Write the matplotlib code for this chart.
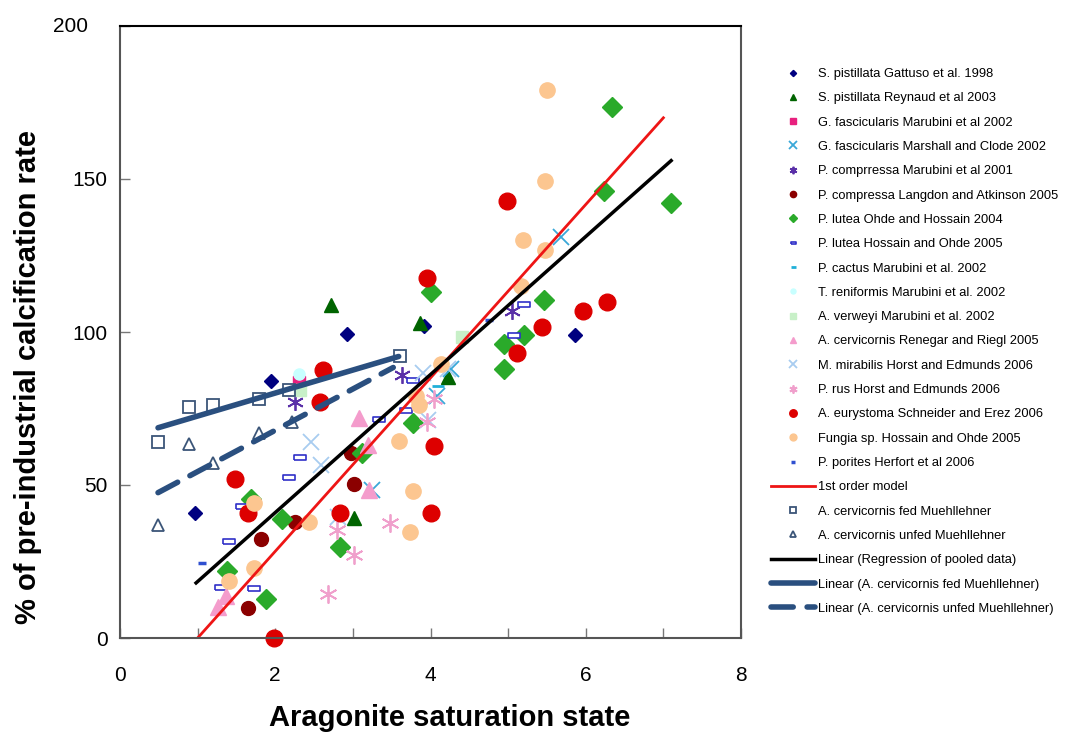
import matplotlib
matplotlib.use("Agg")
import matplotlib.pyplot as plt
from matplotlib.ticker import MultipleLocator

plt.rcParams["font.family"] = ["Liberation Sans", "DejaVu Sans"]

# ---- data ---------------------------------------------------------------
gattuso_x = [1.94, 2.93, 0.97, 3.91, 5.86]
gattuso_y = [84, 99.5, 41, 102, 99]

reynaud_x = [2.72, 3.87, 3.02, 4.23]
reynaud_y = [108.7, 103, 39.3, 85.4]

marubini_gf_x = [2.30]
marubini_gf_y = [83.5]

marshall_x = [5.68, 3.25, 4.09, 4.26]
marshall_y = [131, 48.4, 79, 88]

marubini_pc_x = [2.25, 3.63, 5.05]
marubini_pc_y = [77, 86, 107]

langdon_x = [1.82, 1.65, 2.26, 3.01, 2.97]
langdon_y = [32.4, 9.8, 38, 50.4, 60.5]

ohde_x = [6.34, 6.23, 7.10, 4.01, 5.46, 5.21, 4.95, 4.95, 3.78, 3.12, 2.09, 1.69, 1.38, 1.88, 2.83]
ohde_y = [173.5, 146, 142, 113, 110.6, 99, 96, 88, 70.4, 60.5, 39, 45.5, 22, 12.8, 29.8]

hossain_pl_x = [2.18, 1.41, 1.73, 1.30, 1.57, 2.32, 3.34, 3.69, 3.78, 5.21, 5.08]
hossain_pl_y = [52.7, 31.8, 16.4, 16.7, 43, 59, 71.7, 74.6, 84.4, 109, 99]

cactus_x = [4.10]
cactus_y = [82.5]

reniformis_x = [2.30]
reniformis_y = [86.4]

verweyi_x = [2.32, 4.40]
verweyi_y = [81, 98.5]

renegar_x = [3.08, 3.19, 3.21, 1.37, 1.26]
renegar_y = [72, 63, 48.4, 13.7, 10]

mirabilis_x = [2.46, 2.59, 3.90, 3.97, 4.23, 2.81]
mirabilis_y = [64, 56.6, 86.7, 71.4, 88, 39.6]

rus_x = [3.48, 3.02, 2.80, 2.68, 4.05, 3.96]
rus_y = [37.6, 27.2, 35.4, 14.4, 78, 70.7]

eurystoma_x = [4.98, 3.96, 6.28, 5.96, 5.43, 5.11, 4.04, 4.00, 2.83, 2.62, 2.58, 1.48, 1.65, 1.98]
eurystoma_y = [142.7, 117.8, 109.7, 106.7, 101.5, 93.2, 62.9, 40.9, 40.9, 87.7, 77, 52, 41, 0]

fungia_x = [5.50, 5.47, 5.19, 5.47, 5.16, 4.13, 3.81, 3.85, 3.59, 3.78, 3.73, 2.44, 1.73, 1.41, 1.72]
fungia_y = [179, 149.3, 130, 126.7, 115, 89.4, 79, 76, 64.5, 48, 34.6, 38, 23, 18.7, 44]

porites_x = [1.05, 4.76]
porites_y = [24.5, 104]

fed_x = [0.49, 0.89, 1.20, 1.79, 2.18, 3.61]
fed_y = [64, 75.6, 76, 78, 81, 92]

unfed_x = [0.49, 0.89, 1.20, 1.79, 2.22]
unfed_y = [37, 63.5, 57.3, 67, 70.7]

model_x = [1.0, 7.0]
model_y = [0, 170]

pooled_x = [0.98, 7.10]
pooled_y = [18, 156]

fed_fit_x = [0.49, 3.59]
fed_fit_y = [68.7, 92]

unfed_fit_x = [0.49, 3.52]
unfed_fit_y = [47.5, 88.4]

y_ticks = [0, 50, 100, 150, 200]

# small open rectangle marker used for the Hossain/Ohde series
RECT = [(-1, -0.45), (1, -0.45), (1, 0.45), (-1, 0.45), (-1, -0.45)]
STAR = (6, 2, 0)

scatter_series = [
    ("S. pistillata Gattuso et al. 1998", gattuso_x, gattuso_y,
     dict(marker="D", ms=7, mfc="#000080", mec="#000080")),
    ("S. pistillata Reynaud et al 2003", reynaud_x, reynaud_y,
     dict(marker="^", ms=10, mfc="#006400", mec="#006400")),
    ("G. fascicularis Marubini et al 2002", marubini_gf_x, marubini_gf_y,
     dict(marker="s", ms=9, mfc="#e8207e", mec="#e8207e")),
    ("G. fascicularis Marshall and Clode 2002", marshall_x, marshall_y,
     dict(marker="x", ms=12, mec="#3aa8d8", mew=1.3)),
    ("P. comprressa Marubini et al 2001", marubini_pc_x, marubini_pc_y,
     dict(marker=STAR, ms=12, mec="#5a30a8", mew=1.3)),
    ("P. compressa Langdon and Atkinson 2005", langdon_x, langdon_y,
     dict(marker="o", ms=10, mfc="#8b0000", mec="#8b0000")),
    ("P. lutea Ohde and Hossain 2004", ohde_x, ohde_y,
     dict(marker="D", ms=10, mfc="#2aaa2a", mec="#2aaa2a")),
    ("P. lutea Hossain and Ohde 2005", hossain_pl_x, hossain_pl_y,
     dict(marker=RECT, ms=8, mfc="white", mec="#3030c8", mew=1.2)),
    ("P. cactus Marubini et al. 2002", cactus_x, cactus_y,
     dict(marker="_", ms=8, mec="#20b0d8", mew=2)),
    ("T. reniformis Marubini et al. 2002", reniformis_x, reniformis_y,
     dict(marker="o", ms=8, mfc="#c8ffff", mec="#c8ffff")),
    ("A. verweyi Marubini et al. 2002", verweyi_x, verweyi_y,
     dict(marker="s", ms=9, mfc="#c8f0c8", mec="#c8f0c8")),
    ("A. cervicornis Renegar and Riegl 2005", renegar_x, renegar_y,
     dict(marker="^", ms=11, mfc="#f49ccc", mec="#f49ccc")),
    ("M. mirabilis Horst and Edmunds 2006", mirabilis_x, mirabilis_y,
     dict(marker="x", ms=12, mec="#a8ccf0", mew=1.3)),
    ("P. rus Horst and Edmunds 2006", rus_x, rus_y,
     dict(marker=STAR, ms=13, mec="#f0a0cc", mew=1.3)),
    ("A. eurystoma Schneider and Erez 2006", eurystoma_x, eurystoma_y,
     dict(marker="o", ms=12, mfc="#dd0000", mec="#dd0000")),
    ("Fungia sp. Hossain and Ohde 2005", fungia_x, fungia_y,
     dict(marker="o", ms=11, mfc="#fcc690", mec="#fcc690")),
    ("P. porites Herfort et al 2006", porites_x, porites_y,
     dict(marker="_", ms=6, mec="#3050d0", mew=2.5)),
]

fig = plt.figure(figsize=(10.68, 7.33), dpi=100)
ax = fig.add_axes([120 / 1068, 1 - 638 / 733, 621 / 1068, 612 / 733])

handles = []
for label, xs, ys, style in scatter_series:
    (h,) = ax.plot(xs, ys, linestyle="none", label=label, clip_on=False, **style)
    handles.append(h)

(h_model,) = ax.plot(model_x, model_y, color="#ee1515", lw=2, label="1st order model")
(h_fed,) = ax.plot(fed_x, fed_y, linestyle="none", marker="s", ms=9, mfc="none",
                   mec="#3b5578", mew=1.3, label="A. cervicornis fed Muehllehner")
(h_unfed,) = ax.plot(unfed_x, unfed_y, linestyle="none", marker="^", ms=9, mfc="none",
                     mec="#3b5578", mew=1.3, label="A. cervicornis unfed Muehllehner")
(h_pool,) = ax.plot(pooled_x, pooled_y, color="black", lw=2.5,
                    label="Linear (Regression of pooled data)")
(h_fedfit,) = ax.plot(fed_fit_x, fed_fit_y, color="#2a4f7f", lw=4, solid_capstyle="round",
                      label="Linear (A. cervicornis fed Muehllehner)")
(h_unfedfit,) = ax.plot(unfed_fit_x, unfed_fit_y, color="#2a4f7f", lw=4, dashes=(4, 2.5),
                        dash_capstyle="round",
                        label="Linear (A. cervicornis unfed Muehllehner)")
handles += [h_model, h_fed, h_unfed, h_pool, h_fedfit, h_unfedfit]

ax.set_xlim(0, 8)
ax.set_ylim(0, 200)
ax.xaxis.set_major_locator(MultipleLocator(2))
ax.xaxis.set_minor_locator(MultipleLocator(1))
# the top label sits further left in the original, so it is drawn separately
ax.set_yticks(y_ticks, [str(t) for t in y_ticks[:-1]] + [""])
ax.annotate(str(y_ticks[-1]), xy=(0, y_ticks[-1]), xytext=(-23, 0),
            textcoords="offset points", ha="right", va="center", fontsize=15,
            annotation_clip=False)
ax.tick_params(which="both", direction="in", length=7, width=1, color="#777777",
               labelsize=15, pad=9)
ax.tick_params(axis="x", pad=20)
for side in ["left", "bottom", "right"]:
    ax.spines[side].set_color("#555555")
    ax.spines[side].set_linewidth(1.5)
ax.spines["top"].set_color("black")
ax.spines["top"].set_linewidth(1.5)

label_font = dict(fontsize=21, fontweight="bold")
ax.set_xlabel("Aragonite saturation state", va="center", **label_font)
ax.set_ylabel("% of pre-industrial calcification rate", va="center", **label_font)
ax.xaxis.set_label_coords((450 - 120) / 621, (638 - 718) / 612)
ax.yaxis.set_label_coords((28 - 120) / 621, (638 - 377) / 612)

fig.legend(handles=handles, loc="upper left", bbox_to_anchor=(771 / 1068, 1 - 68 / 733),
           frameon=False, fontsize=9.3, markerscale=0.45, handlelength=3.4, handletextpad=0.25,
           labelspacing=0.95, borderpad=0, borderaxespad=0)

fig.savefig("out.png", dpi=100)
